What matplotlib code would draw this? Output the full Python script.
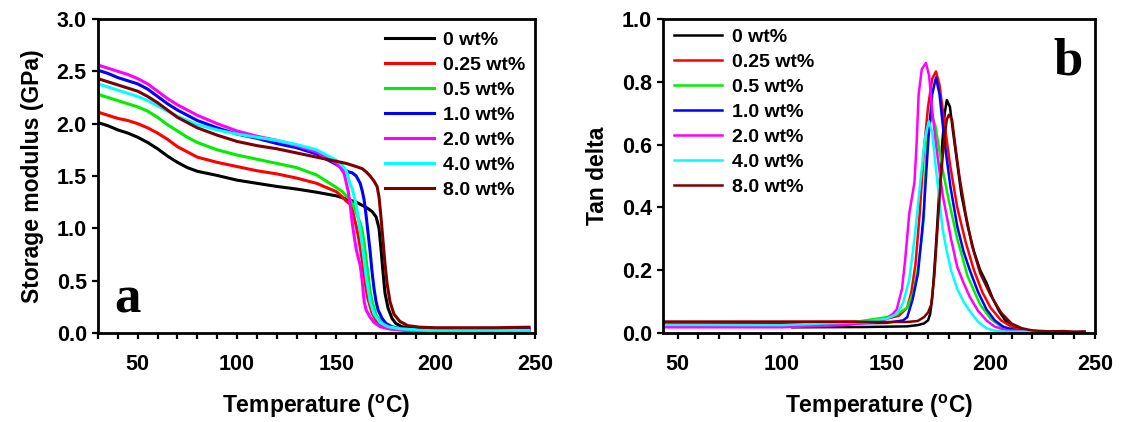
import matplotlib
matplotlib.use("Agg")
import matplotlib.pyplot as plt
from matplotlib.ticker import MultipleLocator, FormatStrFormatter

plt.rcParams["font.family"] = ["Liberation Sans", "DejaVu Sans"]
plt.rcParams["font.weight"] = "bold"
plt.rcParams["mathtext.fontset"] = "custom"
plt.rcParams["mathtext.rm"] = "Liberation Sans:bold"
plt.rcParams["mathtext.bf"] = "Liberation Sans:bold"

labels = ["0 wt%", "0.25 wt%", "0.5 wt%", "1.0 wt%", "2.0 wt%", "4.0 wt%", "8.0 wt%"]
colors = ["#000000", "#ff0000", "#00ee00", "#0000ff", "#ff00ff", "#00ffff", "#800000"]

# ---- panel a: storage modulus (GPa) ----
t_plateau = [30, 35, 40, 45, 50, 55, 60, 65, 70, 75, 80, 90, 100, 110, 120, 130, 140, 150]

e_black = [2.01, 1.98, 1.94, 1.91, 1.87, 1.82, 1.76, 1.69, 1.63, 1.58, 1.545, 1.505, 1.46, 1.43, 1.40, 1.375, 1.345, 1.31]
t_black_tail = [155, 160, 165, 168, 170, 171.5, 172.5, 173.5, 174.5, 176, 178, 180, 183, 188, 195, 210, 230, 247]
e_black_tail = [1.28, 1.25, 1.20, 1.16, 1.11, 1.00, 0.80, 0.58, 0.38, 0.24, 0.14, 0.09, 0.06, 0.045, 0.04, 0.04, 0.04, 0.04]

e_red = [2.11, 2.08, 2.05, 2.03, 2.00, 1.96, 1.91, 1.85, 1.78, 1.73, 1.68, 1.63, 1.59, 1.55, 1.52, 1.48, 1.43, 1.35]
t_red_tail = [153, 155, 157, 158, 159, 160, 161, 162, 163, 164, 165, 166, 168, 170, 173, 177, 185, 200, 247]
e_red_tail = [1.30, 1.26, 1.23, 1.18, 1.10, 1.02, 0.93, 0.82, 0.70, 0.56, 0.42, 0.32, 0.19, 0.12, 0.07, 0.04, 0.025, 0.02, 0.02]

e_green = [2.28, 2.25, 2.22, 2.19, 2.16, 2.12, 2.06, 1.99, 1.93, 1.87, 1.82, 1.75, 1.70, 1.66, 1.62, 1.58, 1.51, 1.39]
t_green_tail = [153, 155, 157, 159, 161, 162, 163, 164, 165, 166, 167, 168, 170, 173, 177, 185, 195, 222]
e_green_tail = [1.35, 1.31, 1.27, 1.20, 1.10, 1.05, 0.98, 0.86, 0.70, 0.55, 0.40, 0.30, 0.17, 0.09, 0.05, 0.025, 0.012, 0.01]

e_blue = [2.51, 2.48, 2.44, 2.41, 2.38, 2.33, 2.26, 2.19, 2.13, 2.08, 2.03, 1.96, 1.90, 1.86, 1.81, 1.77, 1.71, 1.61]
t_blue_tail = [153, 156, 158, 160, 162, 163, 164, 165, 166, 167, 168, 169, 170, 171, 173, 175, 178, 182, 190, 247]
e_blue_tail = [1.57, 1.54, 1.53, 1.50, 1.43, 1.36, 1.27, 1.12, 0.95, 0.78, 0.58, 0.42, 0.30, 0.22, 0.14, 0.09, 0.06, 0.04, 0.03, 0.03]

e_magenta = [2.56, 2.53, 2.50, 2.47, 2.43, 2.38, 2.31, 2.24, 2.18, 2.13, 2.08, 2.00, 1.93, 1.88, 1.84, 1.79, 1.73, 1.62]
t_magenta_tail = [152, 154, 156, 157, 158, 159, 160, 161, 162, 163, 164, 165, 167, 169, 172, 176, 185, 247]
e_magenta_tail = [1.58, 1.52, 1.35, 1.22, 1.05, 0.92, 0.80, 0.72, 0.65, 0.50, 0.30, 0.22, 0.15, 0.10, 0.06, 0.04, 0.025, 0.02]

e_cyan = [2.38, 2.35, 2.32, 2.29, 2.26, 2.22, 2.17, 2.12, 2.07, 2.03, 1.99, 1.94, 1.90, 1.87, 1.84, 1.80, 1.75, 1.65]
t_cyan_tail = [153, 155, 157, 158, 159, 160, 161, 162, 163, 164, 165, 166, 167, 169, 172, 176, 182, 195, 247]
e_cyan_tail = [1.60, 1.55, 1.42, 1.38, 1.30, 1.22, 1.10, 0.98, 0.85, 0.70, 0.54, 0.42, 0.30, 0.18, 0.10, 0.06, 0.04, 0.025, 0.025]

e_brown = [2.43, 2.40, 2.37, 2.34, 2.31, 2.26, 2.20, 2.13, 2.06, 2.01, 1.96, 1.89, 1.83, 1.79, 1.76, 1.72, 1.68, 1.64]
t_brown_tail = [155, 160, 163, 165, 167, 169, 170.5, 171.5, 172.5, 173.5, 174.5, 175.5, 177, 179, 182, 186, 192, 200, 230, 247]
e_brown_tail = [1.62, 1.59, 1.57, 1.54, 1.50, 1.45, 1.40, 1.30, 1.10, 0.88, 0.66, 0.48, 0.30, 0.18, 0.11, 0.07, 0.055, 0.05, 0.05, 0.055]

modulus = [
    (e_black, t_black_tail, e_black_tail),
    (e_red, t_red_tail, e_red_tail),
    (e_green, t_green_tail, e_green_tail),
    (e_blue, t_blue_tail, e_blue_tail),
    (e_magenta, t_magenta_tail, e_magenta_tail),
    (e_cyan, t_cyan_tail, e_cyan_tail),
    (e_brown, t_brown_tail, e_brown_tail),
]

# ---- panel b: tan delta ----
t_tan_black = [105, 140, 160, 165, 168, 170, 171, 172, 173, 174, 175, 176, 177, 178, 179, 180.5, 182, 184, 186, 189, 192, 195, 198, 201, 204, 207, 211, 216, 222, 235]
tan_black = [0.018, 0.019, 0.021, 0.025, 0.03, 0.04, 0.06, 0.11, 0.20, 0.30, 0.41, 0.52, 0.62, 0.70, 0.742, 0.72, 0.64, 0.54, 0.44, 0.34, 0.26, 0.20, 0.16, 0.11, 0.07, 0.04, 0.018, 0.008, 0.004, 0.003]

t_tan_red = [43, 100, 140, 150, 156, 160, 162, 164, 166, 168, 170, 172, 173.8, 175.5, 178, 180.7, 184, 188, 192, 196, 200, 205, 212, 225]
tan_red = [0.035, 0.035, 0.037, 0.045, 0.055, 0.08, 0.13, 0.22, 0.38, 0.58, 0.72, 0.81, 0.833, 0.79, 0.66, 0.53, 0.40, 0.29, 0.20, 0.13, 0.08, 0.04, 0.012, 0.004]

t_tan_green = [43, 100, 130, 140, 150, 155, 160, 163, 165, 167, 168, 168.5, 169.5, 171, 172, 173.5, 175, 177, 180, 184, 189, 195, 200, 206, 215, 225]
tan_green = [0.025, 0.025, 0.03, 0.04, 0.05, 0.06, 0.08, 0.13, 0.20, 0.30, 0.37, 0.48, 0.60, 0.67, 0.69, 0.66, 0.60, 0.52, 0.42, 0.30, 0.18, 0.09, 0.045, 0.015, 0.005, 0.003]

t_tan_blue = [43, 100, 150, 158, 160, 162.6, 165.2, 167.8, 170.4, 172, 173.8, 175.5, 178, 180.7, 184, 187, 190, 194, 198, 202, 206, 212, 225]
tan_blue = [0.028, 0.028, 0.032, 0.04, 0.05, 0.106, 0.19, 0.37, 0.64, 0.76, 0.814, 0.76, 0.605, 0.467, 0.34, 0.26, 0.20, 0.13, 0.075, 0.04, 0.02, 0.008, 0.004]

t_tan_magenta = [43, 100, 130, 145, 150, 153, 155, 157.5, 159, 161, 162.5, 163.5, 164.5, 165.5, 167, 169, 170.5, 172, 173.5, 175, 177, 179, 181, 184, 187, 190, 194, 198, 202, 208, 220, 245]
tan_magenta = [0.018, 0.018, 0.025, 0.035, 0.045, 0.06, 0.075, 0.14, 0.23, 0.38, 0.44, 0.48, 0.60, 0.76, 0.84, 0.86, 0.82, 0.71, 0.62, 0.54, 0.44, 0.37, 0.30, 0.21, 0.16, 0.115, 0.07, 0.04, 0.02, 0.008, 0.004, 0.003]

t_tan_cyan = [43, 100, 140, 150, 155, 158, 161, 163.5, 166, 168.5, 170.4, 172, 173.5, 175, 177, 179, 181, 184, 187, 190, 194, 198, 202, 208, 230]
tan_cyan = [0.026, 0.025, 0.035, 0.045, 0.06, 0.095, 0.17, 0.30, 0.46, 0.62, 0.674, 0.64, 0.54, 0.45, 0.33, 0.26, 0.20, 0.14, 0.10, 0.07, 0.035, 0.015, 0.007, 0.004, 0.004]

t_tan_brown = [43, 100, 150, 160, 165, 168, 170, 171.5, 173, 174, 175, 176, 177, 178, 179, 180, 181.5, 183, 185, 188, 191, 195, 200, 205, 210, 215, 220, 228, 235, 240, 245]
tan_brown = [0.036, 0.036, 0.035, 0.035, 0.038, 0.05, 0.065, 0.09, 0.18, 0.28, 0.38, 0.48, 0.56, 0.63, 0.68, 0.695, 0.68, 0.60, 0.50, 0.38, 0.28, 0.19, 0.12, 0.065, 0.03, 0.015, 0.008, 0.005, 0.006, 0.004, 0.005]

tan_delta = [
    (t_tan_black, tan_black),
    (t_tan_red, tan_red),
    (t_tan_green, tan_green),
    (t_tan_blue, tan_blue),
    (t_tan_magenta, tan_magenta),
    (t_tan_cyan, tan_cyan),
    (t_tan_brown, tan_brown),
]


def style_axes(ax):
    for sp in ax.spines.values():
        sp.set_linewidth(2.0)
    ax.xaxis.set_major_locator(MultipleLocator(50))
    ax.xaxis.set_minor_locator(MultipleLocator(10))
    ax.yaxis.set_major_formatter(FormatStrFormatter("%.1f"))
    ax.tick_params(axis="both", which="both", direction="out", width=1.6,
                   top=False, right=False, labelsize=15.5)
    ax.tick_params(axis="x", which="major", length=4, pad=11)
    ax.tick_params(axis="x", which="minor", length=4)
    ax.tick_params(axis="y", which="major", length=4, pad=4)
    ax.set_xlabel("Temperature ($\\mathregular{^o}$C)", fontsize=16.5,
                  fontweight="bold", labelpad=13)


def add_legend(ax, anchor):
    ax.legend(frameon=False, loc="upper left", bbox_to_anchor=anchor,
              borderaxespad=0, borderpad=0, handlelength=2.5, handletextpad=0.5,
              labelspacing=0.38, prop={"size": 14, "weight": "bold"})


fig = plt.figure(figsize=(11.38, 4.22), dpi=100)

# Panel a
ax_a = fig.add_axes([0.0861, 0.211, 0.384, 0.744])
for (lab, col, (e_plat, t_tail, e_tail)) in zip(labels, colors, modulus):
    ax_a.plot(t_plateau + t_tail, e_plat + e_tail, color=col, lw=2.2, label=lab)
ax_a.set_xlim(30, 250)
ax_a.set_ylim(0, 3.0)
ax_a.yaxis.set_major_locator(MultipleLocator(0.5))
style_axes(ax_a)
ax_a.set_ylabel("Storage modulus (GPa)", fontsize=16.5, fontweight="bold", labelpad=9)
add_legend(ax_a, (0.657, 0.96))
ax_a.text(0.037, 0.064, "a", transform=ax_a.transAxes, fontsize=38,
          fontweight="bold", family="Liberation Serif", ha="left", va="baseline")

# Panel b
ax_b = fig.add_axes([0.5826, 0.211, 0.3796, 0.744])
for (lab, col, (t, v)) in zip(labels, colors, tan_delta):
    ax_b.plot(t, v, color=col, lw=1.8, label=lab)
ax_b.set_xlim(43, 250)
ax_b.set_ylim(0, 1.0)
ax_b.yaxis.set_major_locator(MultipleLocator(0.2))
style_axes(ax_b)
ax_b.set_ylabel("Tan delta", fontsize=16.5, fontweight="bold", labelpad=9)
add_legend(ax_b, (0.025, 0.97))
ax_b.text(0.903, 0.822, "b", transform=ax_b.transAxes, fontsize=38,
          fontweight="bold", family="Liberation Serif", ha="left", va="baseline")

fig.savefig("out.png", dpi=100)
